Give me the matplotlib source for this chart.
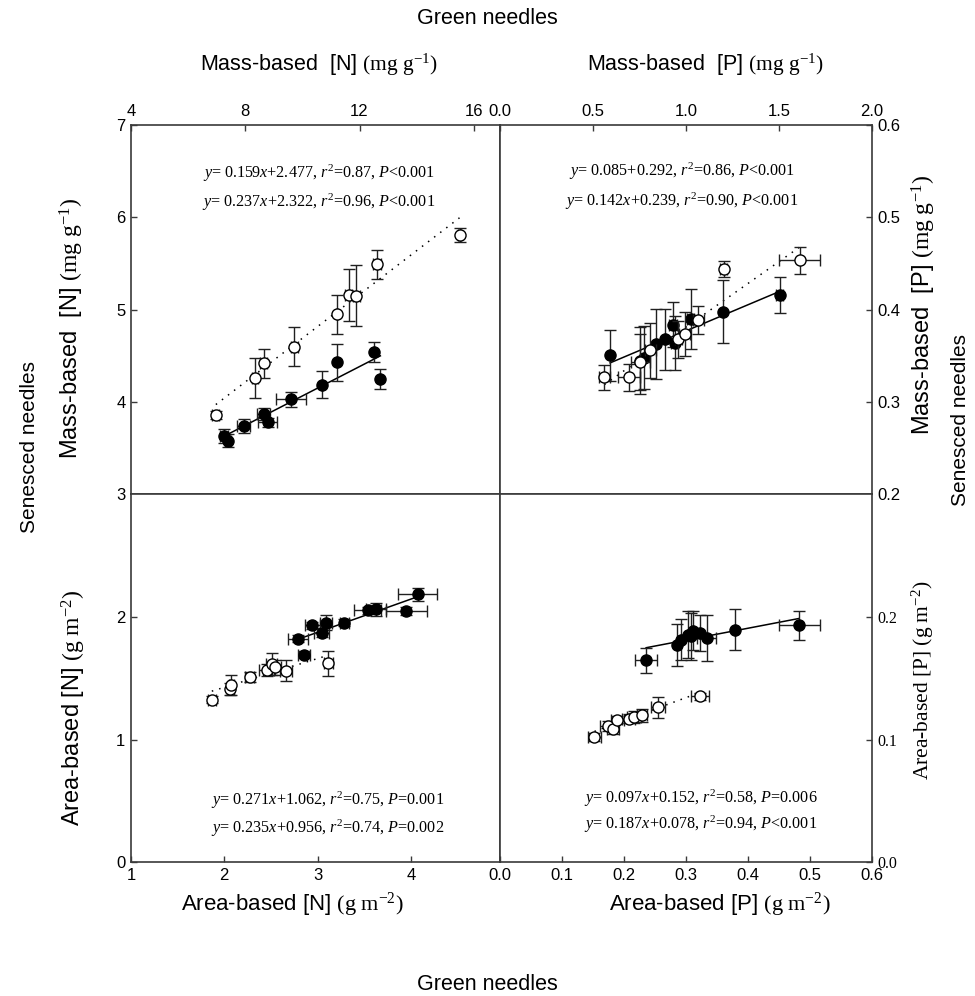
import matplotlib
matplotlib.use("Agg")
import matplotlib.pyplot as plt
from matplotlib import font_manager
import numpy as np

# ---------------- data ----------------
# top-left: mass-based N (green x, senesced y)
tl_fill_x = [7.24, 7.40, 7.94, 8.64, 8.78, 9.60, 10.69, 11.20, 12.49, 12.73]
tl_fill_y = [3.635, 3.58, 3.74, 3.87, 3.78, 4.03, 4.19, 4.43, 4.54, 4.25]
tl_fill_xe = [0.14, 0.10, 0.23, 0.23, 0.33, 0.51, 0.0, 0.0, 0.0, 0.0]
tl_fill_ye = [0.076, 0.07, 0.076, 0.065, 0.05, 0.08, 0.145, 0.20, 0.11, 0.11]
tl_open_x = [6.97, 8.34, 8.64, 9.71, 11.20, 11.62, 11.89, 12.61, 15.50]
tl_open_y = [3.86, 4.26, 4.42, 4.60, 4.95, 5.16, 5.15, 5.49, 5.81]
tl_open_xe = [0.12, 0.10, 0.12, 0.12, 0.0, 0.12, 0.12, 0.14, 0.06]
tl_open_ye = [0.04, 0.22, 0.155, 0.21, 0.21, 0.28, 0.33, 0.155, 0.076]

# top-right: mass-based P
tr_fill_x = [0.594, 0.756, 0.777, 0.842, 0.891, 0.932, 0.940, 1.026, 1.201, 1.504]
tr_fill_y = [0.3505, 0.345, 0.348, 0.363, 0.368, 0.384, 0.364, 0.390, 0.398, 0.416]
tr_fill_xe = [0.0, 0.0, 0.0, 0.0, 0.0, 0.02, 0.02, 0.02, 0.0, 0.02]
tr_fill_ye = [0.028, 0.036, 0.034, 0.038, 0.033, 0.024, 0.029, 0.033, 0.034, 0.019]
tr_open_x = [0.563, 0.696, 0.756, 0.810, 0.960, 0.995, 1.068, 1.203, 1.612]
tr_open_y = [0.3267, 0.3267, 0.3433, 0.356, 0.368, 0.374, 0.389, 0.444, 0.4534]
tr_open_xe = [0.029, 0.06, 0.05, 0.03, 0.02, 0.03, 0.03, 0.02, 0.11]
tr_open_ye = [0.0137, 0.0144, 0.03, 0.03, 0.02, 0.024, 0.015, 0.009, 0.0144]

# bottom-left: area-based N
bl_fill_x = [2.788, 2.854, 2.944, 3.042, 3.089, 3.288, 3.537, 3.627, 3.953, 4.072]
bl_fill_y = [1.824, 1.692, 1.932, 1.873, 1.954, 1.954, 2.054, 2.062, 2.049, 2.184]
bl_fill_xe = [0.11, 0.065, 0.08, 0.08, 0.065, 0.05, 0.145, 0.11, 0.22, 0.21]
bl_fill_ye = [0.03, 0.03, 0.03, 0.04, 0.06, 0.03, 0.03, 0.055, 0.03, 0.05]
bl_open_x = [1.866, 2.065, 2.076, 2.271, 2.456, 2.510, 2.546, 2.662, 3.114]
bl_open_y = [1.324, 1.414, 1.446, 1.508, 1.570, 1.616, 1.589, 1.562, 1.622]
bl_open_xe = [0.04, 0.04, 0.03, 0.05, 0.08, 0.06, 0.06, 0.065, 0.05]
bl_open_ye = [0.03, 0.05, 0.08, 0.04, 0.05, 0.09, 0.06, 0.084, 0.10]

# bottom-right: area-based P
br_fill_x = [0.2362, 0.2865, 0.292, 0.304, 0.309, 0.311, 0.323, 0.3335, 0.380, 0.4827]
br_fill_y = [0.1647, 0.1774, 0.1815, 0.1856, 0.1842, 0.1889, 0.187, 0.1829, 0.1897, 0.1932]
br_fill_xe = [0.0176, 0.0, 0.0, 0.0, 0.0, 0.0, 0.0, 0.016, 0.0, 0.033]
br_fill_ye = [0.0102, 0.017, 0.017, 0.019, 0.019, 0.016, 0.015, 0.019, 0.017, 0.012]
br_open_x = [0.153, 0.1746, 0.1827, 0.190, 0.208, 0.2162, 0.2297, 0.255, 0.3227]
br_open_y = [0.1019, 0.1109, 0.1082, 0.1163, 0.1171, 0.1182, 0.1198, 0.1264, 0.1353]
br_open_xe = [0.01, 0.013, 0.01, 0.01, 0.011, 0.011, 0.008, 0.011, 0.015]
br_open_ye = [0.003, 0.004, 0.004, 0.003, 0.004, 0.005, 0.0054, 0.0087, 0.003]

# regression coefficients (slope, intercept)
tl_fit = {"fill": (0.159, 2.477), "open": (0.237, 2.322)}
tr_fit = {"fill": (0.085, 0.292), "open": (0.142, 0.239)}
bl_fit = {"fill": (0.271, 1.062), "open": (0.235, 0.956)}
br_fit = {"fill": (0.097, 0.152), "open": (0.187, 0.078)}

tl_eqs = [r"$y$= 0.159$x$+2.477, $r^2$=0.87, $P$<0.001",
          r"$y$= 0.237$x$+2.322, $r^2$=0.96, $P$<0.001"]
tr_eqs = [r"$y$= 0.085+0.292, $r^2$=0.86, $P$<0.001",
          r"$y$= 0.142$x$+0.239, $r^2$=0.90, $P$<0.001"]
bl_eqs = [r"$y$= 0.271$x$+1.062, $r^2$=0.75, $P$=0.001",
          r"$y$= 0.235$x$+0.956, $r^2$=0.74, $P$=0.002"]
br_eqs = [r"$y$= 0.097$x$+0.152, $r^2$=0.58, $P$=0.006",
          r"$y$= 0.187$x$+0.078, $r^2$=0.94, $P$<0.001"]

tl_xticks = [4, 8, 12, 16]
tl_yticks = [3, 4, 5, 6, 7]
tr_xticks = [0.0, 0.5, 1.0, 1.5, 2.0]
tr_yticks = [0.2, 0.3, 0.4, 0.5, 0.6]
bl_xticks = [1, 2, 3, 4]
bl_yticks = [0, 1, 2]
br_xticks = [0.0, 0.1, 0.2, 0.3, 0.4, 0.5, 0.6]
br_yticks = [0.0, 0.1, 0.2]

# ---------------- fonts ----------------
installed = {f.name for f in font_manager.fontManager.ttflist}
NARROW = "Liberation Sans Narrow" if "Liberation Sans Narrow" in installed else "Liberation Sans"
SANS = "Liberation Sans"
SERIF = "Liberation Serif"

plt.rcParams["font.family"] = SANS
plt.rcParams["mathtext.fontset"] = "custom"
plt.rcParams["mathtext.rm"] = SERIF
plt.rcParams["mathtext.it"] = SERIF + ":italic"
plt.rcParams["mathtext.bf"] = SERIF + ":bold"

W, H = 975, 996
fig = plt.figure(figsize=(W / 100, H / 100), dpi=100)

L, R, M = 131 / W, 872 / W, 499.5 / W
T, B, MH = 1 - 125 / H, 1 - 862 / H, 1 - 494.5 / H

ax_tl = fig.add_axes([L, MH, M - L, T - MH])
ax_tr = fig.add_axes([M, MH, R - M, T - MH])
ax_bl = fig.add_axes([L, B, M - L, MH - B])
ax_br = fig.add_axes([M, B, R - M, MH - B])

SPINE = "#3a3a3a"
TICKFS = 12


def style(ax, xlim, ylim, xticks, yticks, xpos, ypos, fmtx, fmty, yfont=SANS):
    ax.set_xlim(*xlim)
    ax.set_ylim(*ylim)
    for s in ax.spines.values():
        s.set_color(SPINE)
        s.set_linewidth(1.2)
    ax.set_xticks(xticks)
    ax.set_yticks(yticks)
    ax.set_xticklabels([fmtx.format(v) for v in xticks], fontsize=TICKFS, family=SANS)
    ax.set_yticklabels([fmty.format(v) for v in yticks], fontsize=TICKFS, family=yfont)
    ax.tick_params(direction="in", length=4.5, width=1, color=SPINE, pad=4)
    if xpos == "top":
        ax.xaxis.tick_top()
    else:
        ax.xaxis.tick_bottom()
    if ypos == "right":
        ax.yaxis.tick_right()
    else:
        ax.yaxis.tick_left()
    ax.set_facecolor("white")


style(ax_tl, (4, 16.9), (3, 7), tl_xticks, tl_yticks, "top", "left", "{:g}", "{:g}")
style(ax_tr, (0, 2.0), (0.2, 0.6), tr_xticks, tr_yticks, "top", "right", "{:.1f}", "{:.1f}")
style(ax_bl, (1, 4.95), (0, 3), bl_xticks, bl_yticks, "bottom", "left", "{:g}", "{:g}")
style(ax_br, (0, 0.6), (0, 0.3), br_xticks, br_yticks, "bottom", "right", "{:.1f}", "{:.1f}",
      yfont=SERIF)
ax_br.tick_params(axis="y", labelsize=11.5)


def draw(ax, fx, fy, fxe, fye, ox, oy, oxe, oye, fit):
    ebkw = dict(ecolor="#202020", elinewidth=1.0, capsize=4.5, capthick=1.0, ls="none")
    s, b = fit["fill"]
    xs = np.array([min(fx), max(fx)])
    ax.plot(xs, s * xs + b, color="black", lw=1.1, zorder=2)
    s, b = fit["open"]
    xs = np.array([min(ox), max(ox)])
    ax.plot(xs, s * xs + b, color="black", lw=1.1, ls=(0, (1, 4)), zorder=2)
    ax.errorbar(fx, fy, xerr=fxe, yerr=fye, marker="o", ms=8, mfc="black",
                mec="black", zorder=3, **ebkw)
    ax.errorbar(ox, oy, xerr=oxe, yerr=oye, marker="o", ms=8, mfc="white",
                mec="black", mew=1.0, zorder=4, **ebkw)


draw(ax_tl, tl_fill_x, tl_fill_y, tl_fill_xe, tl_fill_ye,
     tl_open_x, tl_open_y, tl_open_xe, tl_open_ye, tl_fit)
draw(ax_tr, tr_fill_x, tr_fill_y, tr_fill_xe, tr_fill_ye,
     tr_open_x, tr_open_y, tr_open_xe, tr_open_ye, tr_fit)
draw(ax_bl, bl_fill_x, bl_fill_y, bl_fill_xe, bl_fill_ye,
     bl_open_x, bl_open_y, bl_open_xe, bl_open_ye, bl_fit)
draw(ax_br, br_fill_x, br_fill_y, br_fill_xe, br_fill_ye,
     br_open_x, br_open_y, br_open_xe, br_open_ye, br_fit)

EQFS = 11.6


def eqs(lines, cx, y1, y2):
    for txt, yy in zip(lines, (y1, y2)):
        fig.text(cx / W, 1 - yy / H, txt, ha="center", va="center",
                 fontsize=EQFS, family=SERIF)


eqs(tl_eqs, 319, 173, 202)
eqs(tr_eqs, 682, 171, 201)
eqs(bl_eqs, 328, 800, 828)
eqs(br_eqs, 701, 798, 824)


def ftext(x, y, s, size, family=NARROW, rot=0):
    fig.text(x / W, 1 - y / H, s, ha="center", va="center", fontsize=size,
             family=family, rotation=rot)


ftext(487, 19, "Green needles", 15.5)
ftext(487, 984, "Green needles", 15.5)
ftext(319, 65, r"Mass-based  [N] $\mathrm{(mg\ g^{-1})}$", 15.5)
ftext(705, 65, r"Mass-based  [P] $\mathrm{(mg\ g^{-1})}$", 15.5)
ftext(292, 905, r"Area-based [N] $\mathrm{(g\ m^{-2})}$", 16)
ftext(720, 905, r"Area-based [P] $\mathrm{(g\ m^{-2})}$", 16)

ftext(30, 447, "Senesced needles", 15, rot=90)
ftext(960, 420, "Senesced needles", 15, rot=90)
ftext(72, 328, r"Mass-based  [N] $\mathrm{(mg\ g^{-1})}$", 17, rot=90)
ftext(74, 708, r"Area-based [N] $\mathrm{(g\ m^{-2})}$", 17, rot=90)
ftext(924, 305, r"Mass-based  [P] $\mathrm{(mg\ g^{-1})}$", 17, rot=90)
ftext(923, 680, r"Area-based [P] $\mathrm{(g\ m^{-2})}$", 15.5, family=SERIF, rot=90)

fig.savefig("out.png", dpi=100, facecolor="white")
